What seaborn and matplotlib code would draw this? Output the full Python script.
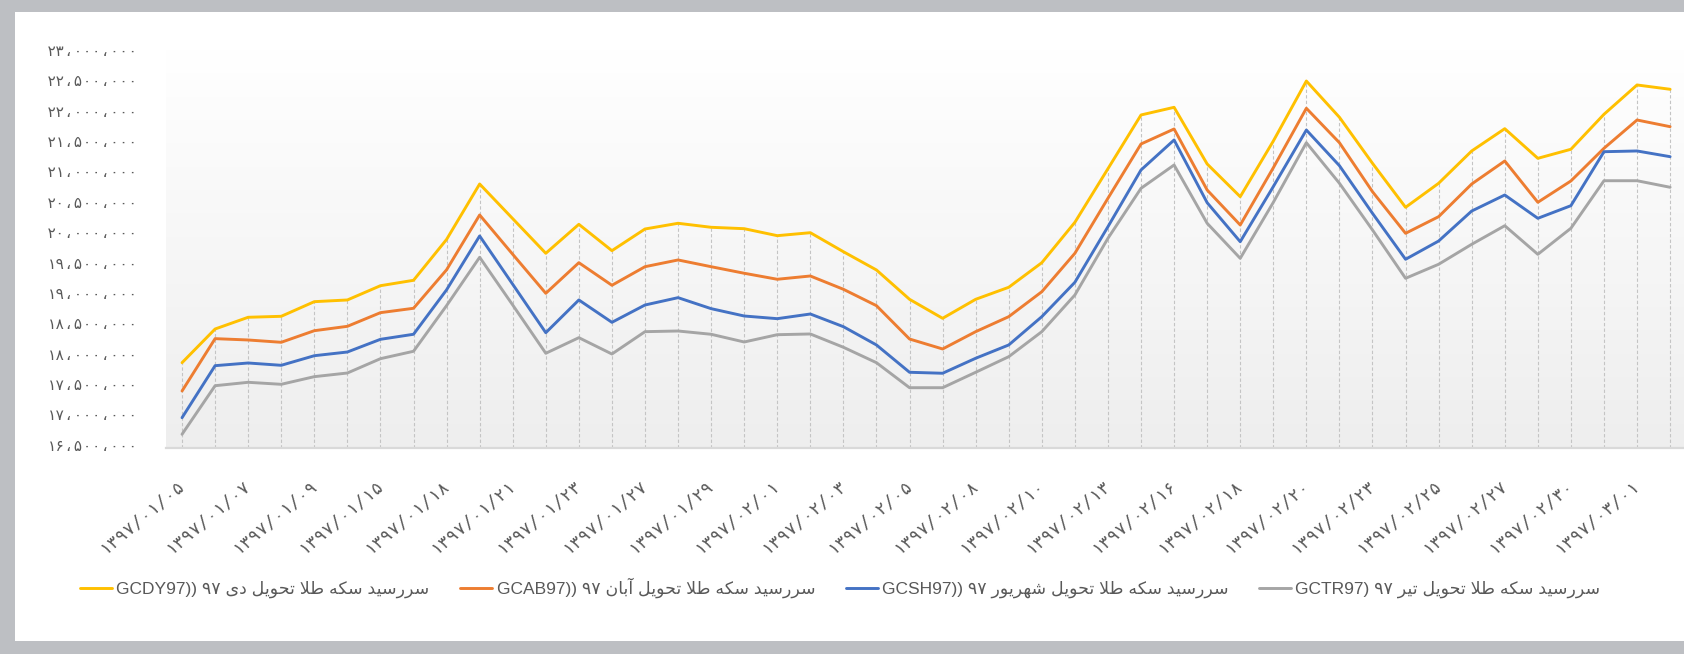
import numpy as np
import pandas as pd
import matplotlib
matplotlib.use('Agg')
import matplotlib.pyplot as plt
import seaborn as sns
from matplotlib.colors import LinearSegmentedColormap
from matplotlib.patches import Rectangle

# values in million rials, one point per trading day (46 days)
gcdy = [17.850, 18.405, 18.598, 18.614, 18.855, 18.883, 19.118, 19.207, 19.880, 20.793,
        20.222, 19.652, 20.129, 19.695, 20.052, 20.146, 20.080, 20.057, 19.942, 19.991,
        19.678, 19.377, 18.894, 18.581, 18.894, 19.092, 19.497, 20.162, 21.045, 21.930,
        22.056, 21.123, 20.584, 21.500, 22.489, 21.892, 21.134, 20.409, 20.805, 21.337,
        21.704, 21.216, 21.365, 21.941, 22.424, 22.353]
gcab = [17.384, 18.246, 18.224, 18.186, 18.377, 18.449, 18.674, 18.746, 19.380, 20.283,
        19.635, 18.993, 19.497, 19.125, 19.431, 19.542, 19.431, 19.323, 19.224, 19.278,
        19.059, 18.789, 18.240, 18.076, 18.361, 18.608, 19.019, 19.652, 20.558, 21.452,
        21.699, 20.694, 20.118, 21.060, 22.040, 21.473, 20.666, 19.981, 20.255, 20.793,
        21.172, 20.492, 20.843, 21.381, 21.847, 21.737]
gcsh = [16.944, 17.801, 17.845, 17.807, 17.965, 18.026, 18.235, 18.318, 19.050, 19.937,
        19.141, 18.344, 18.883, 18.515, 18.800, 18.921, 18.740, 18.619, 18.575, 18.652,
        18.443, 18.142, 17.692, 17.676, 17.923, 18.142, 18.608, 19.174, 20.090, 21.024,
        21.518, 20.485, 19.843, 20.750, 21.682, 21.095, 20.310, 19.553, 19.854, 20.348,
        20.612, 20.228, 20.436, 21.325, 21.337, 21.243]
gctr = [16.671, 17.471, 17.527, 17.494, 17.620, 17.680, 17.916, 18.038, 18.790, 19.586,
        18.800, 18.005, 18.262, 17.993, 18.361, 18.372, 18.318, 18.191, 18.311, 18.323,
        18.104, 17.850, 17.438, 17.438, 17.692, 17.949, 18.361, 18.965, 19.899, 20.722,
        21.106, 20.146, 19.569, 20.490, 21.473, 20.805, 20.036, 19.240, 19.471, 19.800,
        20.106, 19.635, 20.064, 20.847, 20.847, 20.739]

# labelled dates (every second day)
dates = ['1397/01/05', '1397/01/07', '1397/01/09', '1397/01/15', '1397/01/18', '1397/01/21',
         '1397/01/23', '1397/01/27', '1397/01/29', '1397/02/01', '1397/02/03', '1397/02/05',
         '1397/02/08', '1397/02/10', '1397/02/13', '1397/02/16', '1397/02/18', '1397/02/20',
         '1397/02/23', '1397/02/25', '1397/02/27', '1397/02/30', '1397/03/01']

names = ['سررسید سکه طلا تحویل دی', 'سررسید سکه طلا تحویل آبان',
         'سررسید سکه طلا تحویل شهریور', 'سررسید سکه طلا تحویل تیر']
codes = ['GCDY97))', 'GCAB97))', 'GCSH97))', 'GCTR97)']
colors = ['#FFC000', '#ED7D31', '#4472C4', '#A5A5A5']

FA = str.maketrans('0123456789', '۰۱۲۳۴۵۶۷۸۹')

# minimal arabic shaping (matplotlib has no bidi / joining)
FORMS = {
    'ا': ('\uFE8D', '\uFE8E', None, None), 'آ': ('\uFE81', '\uFE82', None, None),
    'ب': ('\uFE8F', '\uFE90', '\uFE91', '\uFE92'), 'ت': ('\uFE95', '\uFE96', '\uFE97', '\uFE98'),
    'ح': ('\uFEA1', '\uFEA2', '\uFEA3', '\uFEA4'), 'د': ('\uFEA9', '\uFEAA', None, None),
    'ر': ('\uFEAD', '\uFEAE', None, None), 'س': ('\uFEB1', '\uFEB2', '\uFEB3', '\uFEB4'),
    'ش': ('\uFEB5', '\uFEB6', '\uFEB7', '\uFEB8'), 'ط': ('\uFEC1', '\uFEC2', '\uFEC3', '\uFEC4'),
    'ک': ('\uFB8E', '\uFB8F', '\uFB90', '\uFB91'), 'ل': ('\uFEDD', '\uFEDE', '\uFEDF', '\uFEE0'),
    'ن': ('\uFEE5', '\uFEE6', '\uFEE7', '\uFEE8'), 'ه': ('\uFEE9', '\uFEEA', '\uFEEB', '\uFEEC'),
    'و': ('\uFEED', '\uFEEE', None, None), 'ی': ('\uFBFC', '\uFBFD', '\uFBFE', '\uFBFF'),
}


def rtl(text):
    res = []
    for i, c in enumerate(text):
        if c not in FORMS:
            res.append(c)
            continue
        prev = text[i - 1] if i > 0 else None
        nxt = text[i + 1] if i + 1 < len(text) else None
        jp = prev in FORMS and FORMS[prev][2] is not None
        jn = nxt in FORMS and FORMS[c][2] is not None
        iso, fin, ini, med = FORMS[c]
        res.append(med if jp and jn else fin if jp else ini if jn else iso)
    s = ''.join(res)
    s = s.replace('\uFEDF\uFE8E', '\uFEFB').replace('\uFEE0\uFE8E', '\uFEFC')
    return s[::-1]


def fa_num(v):
    return f"{int(round(v)):,}".replace(',', '،').translate(FA)


labels = [code + ' ' + '97'.translate(FA) + ' ' + rtl(n) for code, n in zip(codes, names)]

rows = []
for lab, vals in zip(labels, [gcdy, gcab, gcsh, gctr]):
    for i, v in enumerate(vals):
        rows.append({'day': i, 'price': v * 1e6, 'series': lab})
df = pd.DataFrame(rows)

sns.set_style('white')
plt.rcParams['font.family'] = ['Liberation Sans', 'DejaVu Sans']
num_font = ['DejaVu Sans Mono', 'DejaVu Sans']
txt = '#595959'

W, H = 1684, 654
fig = plt.figure(figsize=(W / 100, H / 100), dpi=100)
fig.patch.set_facecolor('#bdbfc3')
fig.add_artist(Rectangle((15 / W, 13 / H), (W - 15) / W, 629 / H, transform=fig.transFigure,
                         facecolor='white', edgecolor='none', zorder=0))

ax = fig.add_axes([165.5 / W, (H - 448) / H, (W - 165.5) / W, 398 / H])
ax.set_facecolor('none')

bg = LinearSegmentedColormap.from_list('bg', ['#eeeeee', '#ffffff'])
ax.imshow(np.linspace(0, 1, 256).reshape(-1, 1), cmap=bg, origin='lower', extent=[0, 1, 0, 1],
          transform=ax.transAxes, aspect='auto', zorder=-5)

ymin = 16.445e6
top = np.max([gcdy, gcab, gcsh, gctr], axis=0) * 1e6
ax.vlines(np.arange(len(top)), ymin, top, colors='#c4c4c4', linestyles=(0, (3, 2)), lw=0.8, zorder=1)

sns.lineplot(data=df, x='day', y='price', hue='series', hue_order=labels,
             palette=dict(zip(labels, colors)), lw=2.1, ax=ax, zorder=3)

ax.set_xlim(-0.5, 45.42)
ax.set_ylim(ymin, 23e6)
yt = np.arange(16.5e6, 23.01e6, 0.5e6)
ax.set_yticks(yt, labels=[fa_num(v) for v in yt], fontfamily=num_font, fontsize=11)
ax.set_xticks(np.arange(0, len(gcdy), 2), labels=[d.translate(FA) for d in dates],
              rotation=40, ha='right', va='center', rotation_mode='anchor',
              fontfamily=num_font, fontsize=12.5)
ax.tick_params(axis='y', length=0, pad=20, labelcolor=txt)
ax.tick_params(axis='x', length=0, pad=25, labelcolor=txt)
ax.set_xlabel('')
ax.set_ylabel('')
for s in ['top', 'right', 'left']:
    ax.spines[s].set_visible(False)
ax.spines['bottom'].set_color('#d9d9d9')
ax.spines['bottom'].set_linewidth(1.6)
ax.grid(False)

sns.move_legend(ax, 'center left', bbox_to_anchor=(80 / W, (H - 588) / H),
                bbox_transform=fig.transFigure, ncol=4, frameon=False, title=None,
                fontsize=12.5, labelcolor=txt, handlelength=1.85, handletextpad=0.25,
                columnspacing=1.75, borderpad=0, borderaxespad=0)

fig.savefig('out.png', dpi=100, facecolor=fig.get_facecolor())
